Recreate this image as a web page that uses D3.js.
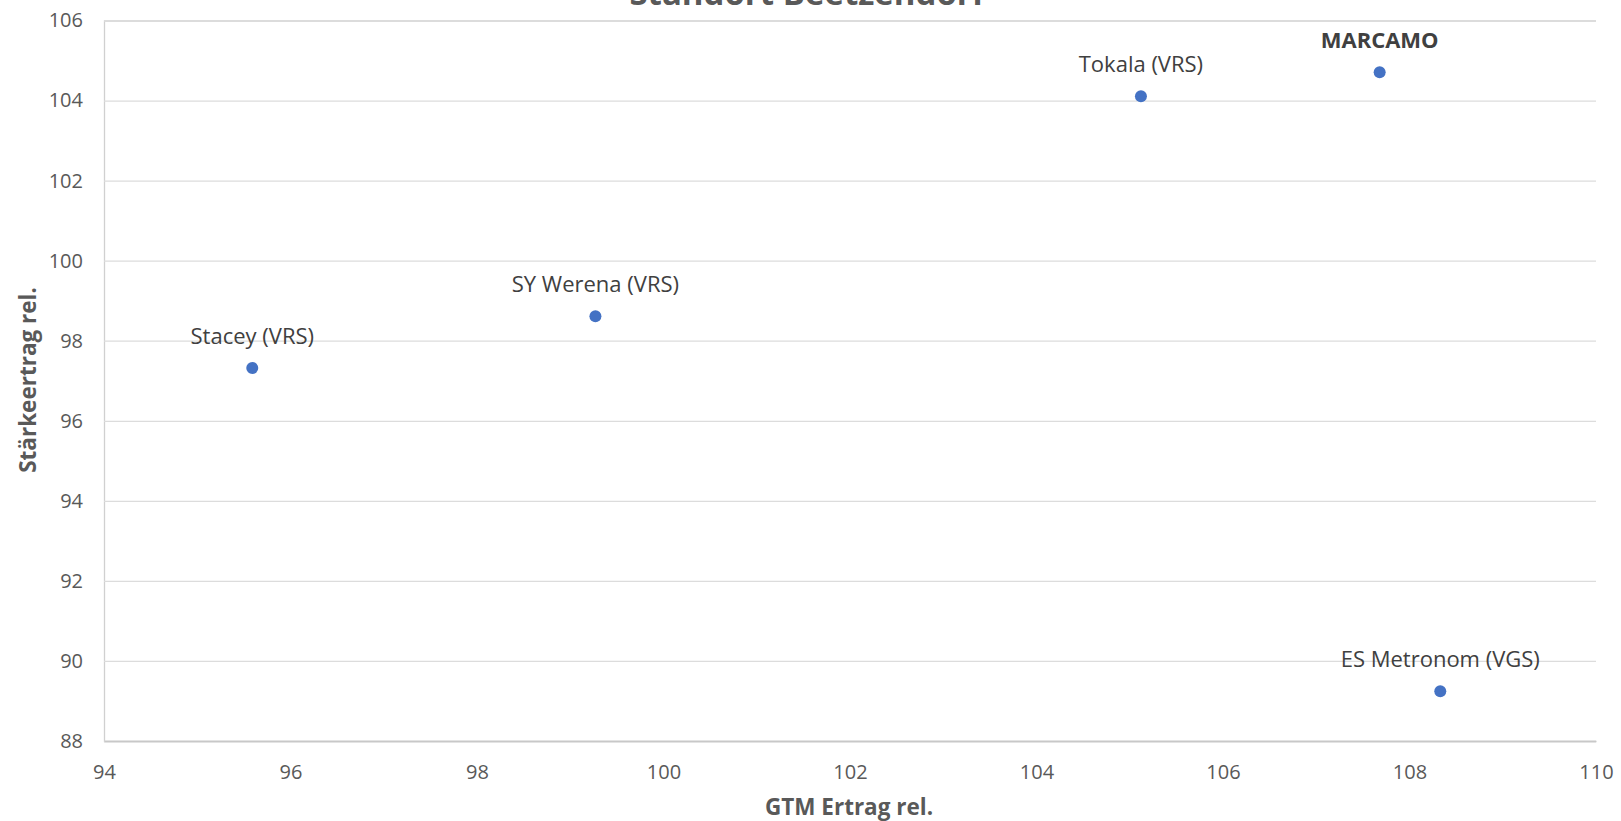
<!DOCTYPE html>
<html><head><meta charset="utf-8">
<script src="https://cdn.jsdelivr.net/npm/d3@7"></script>
<style>
html,body{margin:0;padding:0;background:#fff;}
svg{display:block;font-family:"Open Sans",sans-serif;}
</style></head>
<body><svg id="c" width="1621" height="821"></svg>
<script>
const names = ["Stacey (VRS)", "SY Werena (VRS)", "Tokala (VRS)", "MARCAMO", "ES Metronom (VGS)"];
const gtmValues = [95.59, 99.27, 105.12, 107.68, 108.33];
const starkeValues = [97.32, 98.61, 104.11, 104.71, 89.24];
const boldFlags = [false, false, false, true, false];
const xTicks = [94, 96, 98, 100, 102, 104, 106, 108, 110];
const yTicks = [88, 90, 92, 94, 96, 98, 100, 102, 104, 106];
const title = "Standort Beetzendorf";
const xTitle = "GTM Ertrag rel.";
const yTitle = "Stärkeertrag rel.";

const svg = d3.select("#c");
const x = d3.scaleLinear().domain([94, 110]).range([104, 1596]);
const y = d3.scaleLinear().domain([88, 106]).range([741, 20.5]);

// title (cut off at top, as in the reference)
svg.append("text").attr("x", 807).attr("y", 5).attr("text-anchor", "middle")
  .attr("font-size", 33).attr("font-weight", "bold").attr("fill", "#595959").text(title);

// gridlines + y axis
const yAxis = d3.axisLeft(y).tickValues(yTicks).tickSize(-(1596 - 104)).tickPadding(21).tickFormat(d3.format("d"));
const gy = svg.append("g").attr("transform", "translate(104,0)").call(yAxis);
gy.select(".domain").attr("stroke", "#d0d0d0").attr("stroke-width", 1.3);
gy.selectAll(".tick line").attr("stroke", "#dcdcdc").attr("stroke-width", 1.3);
gy.selectAll(".tick text").attr("font-size", 20).attr("fill", "#595959").attr("font-family", "Open Sans");

const xAxis = d3.axisBottom(x).tickValues(xTicks).tickSize(0).tickPadding(24).tickFormat(d3.format("d"));
const gx = svg.append("g").attr("transform", "translate(0,741)").call(xAxis);
gx.select(".domain").attr("stroke", "#c8c8c8").attr("stroke-width", 1.5);
gx.selectAll(".tick text").attr("font-size", 20).attr("fill", "#595959").attr("font-family", "Open Sans");

// axis titles
svg.append("text").attr("x", 849).attr("y", 815).attr("text-anchor", "middle")
  .attr("font-size", 22.5).attr("font-weight", "bold").attr("fill", "#595959").text(xTitle);
svg.append("text").attr("transform", "translate(36,380) rotate(-90)").attr("text-anchor", "middle")
  .attr("font-size", 22.5).attr("font-weight", "bold").attr("fill", "#595959").text(yTitle);

const data = names.map((n, i) => ({name: n, gx: gtmValues[i], sy: starkeValues[i], bold: boldFlags[i]}));

svg.append("g").selectAll("circle").data(data).join("circle")
  .attr("cx", d => x(d.gx)).attr("cy", d => y(d.sy)).attr("r", 6).attr("fill", "#4472C4");

svg.append("g").selectAll("text").data(data).join("text")
  .attr("x", d => x(d.gx)).attr("y", d => y(d.sy) - 24)
  .attr("text-anchor", "middle").attr("font-size", 22)
  .attr("font-weight", d => d.bold ? "bold" : "normal")
  .attr("fill", "#404040").text(d => d.name);
</script></body></html>
